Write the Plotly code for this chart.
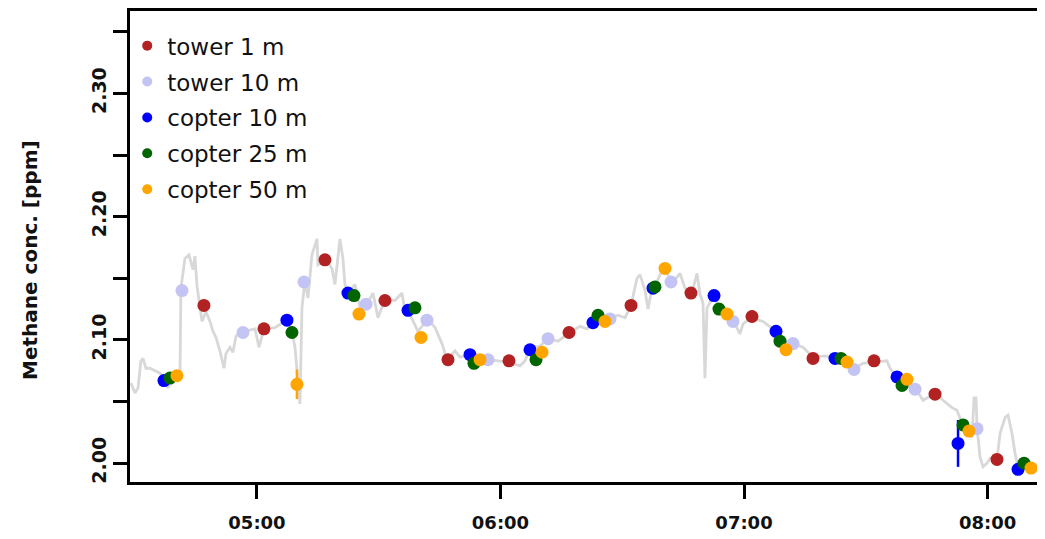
import plotly.graph_objects as go

DAY = "2014-07-10 "

# continuous tower record (grey line)
line_time = ["04:28:57","04:29:56","04:30:41","04:31:25","04:31:55","04:32:39","04:33:38","04:34:52","04:36:06","04:37:05",
             "04:38:04","04:39:18","04:40:32","04:41:02","04:41:16","04:42:15","04:43:15","04:44:14","04:44:43","04:45:13",
             "04:45:57","04:46:27","04:47:26","04:48:25","04:49:10","04:49:54","04:50:53","04:51:52","04:52:22","04:53:21",
             "04:54:05","04:54:50","04:56:48","04:59:31","05:00:30","05:01:43","05:04:26","05:06:24","05:07:38","05:08:37",
             "05:09:22","05:09:51","05:10:06","05:10:36","05:11:05","05:11:50","05:12:34","05:13:33","05:14:47","05:15:02",
             "05:17:00","05:18:29","05:19:13","05:20:27","05:21:11","05:21:41","05:22:25","05:24:09","05:25:23","05:27:06",
             "05:28:35","05:29:49","05:31:32","05:34:00","05:35:44","05:36:28","05:37:13","05:39:40","05:42:08","05:43:52",
             "05:45:35","05:46:49","05:48:47","05:50:01","05:52:29","05:54:28","05:56:55","05:59:08","06:01:51","06:04:49",
             "06:06:02","06:07:16","06:09:44","06:11:43","06:14:10","06:16:38","06:19:35","06:21:19","06:22:47","06:24:31",
             "06:26:59","06:28:57","06:30:41","06:32:10","06:33:38","06:34:23","06:35:37","06:36:21","06:37:20","06:38:04",
             "06:39:18","06:40:32","06:42:16","06:44:14","06:45:28","06:47:11","06:48:25","06:49:10","06:49:54","06:50:23",
             "06:50:53","06:52:37","06:53:50","06:55:49","06:57:17","06:59:01","06:59:46","07:01:44","07:04:41","07:07:53",
             "07:09:52","07:12:05","07:14:32","07:17:00","07:19:58","07:22:25","07:24:53","07:27:07","07:29:19","07:32:02",
             "07:35:14","07:35:59","07:37:42","07:39:11","07:42:08","07:44:07","07:47:19","07:49:02","07:51:15","07:52:29",
             "07:53:43","07:54:57","07:56:11","07:56:41","07:57:10","07:57:25","07:58:09","07:58:53","07:59:53","08:00:37",
             "08:02:20","08:03:05","08:04:19","08:05:03","08:06:02","08:06:47","08:07:31","08:09:14","08:11:13","08:14:10"]
line_conc = [2.065,2.057,2.061,2.083,2.085,2.077,2.077,2.075,2.073,2.069,
             2.061,2.069,2.071,2.071,2.142,2.166,2.169,2.157,2.168,2.144,
             2.129,2.115,2.123,2.115,2.107,2.102,2.091,2.077,2.089,2.094,
             2.090,2.103,2.107,2.109,2.094,2.109,2.110,2.114,2.115,2.107,
             2.094,2.077,2.063,2.048,2.126,2.148,2.134,2.169,2.182,2.161,
             2.165,2.158,2.145,2.182,2.166,2.145,2.138,2.145,2.126,2.129,
             2.138,2.118,2.133,2.132,2.138,2.123,2.124,2.107,2.117,2.110,
             2.097,2.084,2.091,2.086,2.088,2.083,2.084,2.083,2.082,2.079,
             2.083,2.093,2.095,2.101,2.099,2.105,2.111,2.109,2.114,2.119,
             2.117,2.120,2.118,2.128,2.150,2.153,2.140,2.125,2.142,2.143,
             2.153,2.158,2.146,2.154,2.142,2.138,2.154,2.137,2.130,2.069,
             2.126,2.136,2.125,2.121,2.116,2.105,2.113,2.118,2.115,2.107,
             2.099,2.097,2.094,2.086,2.087,2.085,2.083,2.077,2.081,2.082,
             2.083,2.077,2.070,2.063,2.061,2.051,2.057,2.051,2.045,2.043,
             2.032,2.024,2.021,2.053,2.053,2.029,2.005,1.997,2.000,2.004,
             2.003,2.024,2.037,2.039,2.024,2.008,1.997,2.001,1.998,2.000]

# tower discrete measurements
tower1_time = ["04:46:56","05:01:43","05:16:45","05:31:32","05:47:04","06:02:06","06:16:53",
               "06:32:10","06:46:56","07:01:58","07:17:00","07:32:02","07:47:04","08:02:20"]
tower1_conc = [2.128,2.109,2.165,2.132,2.084,2.083,2.106,2.128,2.138,2.119,2.085,2.083,2.056,2.003]

tower10_time = ["04:41:31","04:56:33","05:11:35","05:26:52","05:41:53","05:56:55","06:11:43",
                "06:26:59","06:42:01","06:57:17","07:12:05","07:27:07","07:42:08","07:57:25"]
tower10_conc = [2.140,2.106,2.147,2.129,2.116,2.084,2.101,2.117,2.147,2.115,2.097,2.076,2.060,2.028]

# copter measurements
copter10_time = ["04:37:05","05:07:23","05:22:25","05:37:13","05:52:29","06:07:16","06:22:47",
                 "06:37:35","06:52:37","07:07:53","07:22:25","07:37:42","07:52:44","08:07:31"]
copter10_conc = [2.067,2.116,2.138,2.124,2.088,2.092,2.114,2.142,2.136,2.107,2.085,2.070,2.016,1.995]
copter10_spread = [0,0,0,0,0,0,0,0,0,0,0,0,0.019,0]

copter25_time = ["04:38:34","05:08:37","05:23:54","05:38:56","05:53:28","06:08:45","06:24:02",
                 "06:38:04","06:53:50","07:08:52","07:23:54","07:38:56","07:53:58","08:09:00"]
copter25_conc = [2.069,2.106,2.136,2.126,2.081,2.084,2.120,2.143,2.125,2.099,2.085,2.063,2.031,2.000]

copter50_time = ["04:40:17","05:09:51","05:25:08","05:40:25","05:54:57","06:10:14","06:25:45",
                 "06:40:32","06:55:49","07:10:21","07:25:23","07:40:10","07:55:26","08:10:43"]
copter50_conc = [2.071,2.064,2.121,2.102,2.084,2.090,2.115,2.158,2.121,2.092,2.082,2.068,2.026,1.996]
copter50_spread = [0,0.012,0,0,0,0,0,0,0,0,0,0,0,0]

series_names = ["tower 1 m", "tower 10 m", "copter 10 m", "copter 25 m", "copter 50 m"]
series_colors = ["#B22222", "#C4C4F4", "#0000FF", "#006400", "#FFA500"]

x_ticks = ["05:00", "06:00", "07:00", "08:00"]
y_ticks = [2.00, 2.05, 2.10, 2.15, 2.20, 2.25, 2.30, 2.35]
y_ticktext = ["2.00", "", "2.10", "", "2.20", "", "2.30", ""]
x_range = ["04:28:43", "08:16:08"]
y_range = [1.9847, 2.3669]


def ts(lst):
    return [DAY + t for t in lst]


fig = go.Figure()

fig.add_trace(go.Scatter(x=ts(line_time), y=line_conc, mode="lines",
                         line=dict(color="rgb(216,216,216)", width=2.8),
                         showlegend=False, hoverinfo="skip"))

point_sets = [
    (tower1_time, tower1_conc, None),
    (tower10_time, tower10_conc, None),
    (copter10_time, copter10_conc, copter10_spread),
    (copter25_time, copter25_conc, None),
    (copter50_time, copter50_conc, copter50_spread),
]
for (t, c, s), name, col in zip(point_sets, series_names, series_colors):
    err = None
    if s is not None:
        err = dict(type="data", array=s, visible=True, color=col, thickness=2.5, width=0)
    fig.add_trace(go.Scatter(x=ts(t), y=c, mode="markers", name=name,
                             marker=dict(color=col, size=13, line=dict(width=0)),
                             error_y=err, showlegend=False))

# legend entries (smaller dots)
for i, (name, col) in enumerate(zip(series_names, series_colors)):
    fig.add_trace(go.Scatter(x=[None], y=[None], mode="markers", name=name,
                             legendgroup=f"g{i}",
                             marker=dict(color=col, size=10)))

fig.update_layout(
    width=1045, height=539,
    margin=dict(l=122, r=0, t=0, b=65),
    paper_bgcolor="white", plot_bgcolor="white",
    showlegend=True,
    legend=dict(x=-0.003, y=0.972, xanchor="left", yanchor="top",
                bgcolor="rgba(0,0,0,0)", traceorder="grouped", tracegroupgap=3,
                font=dict(family="DejaVu Sans", size=23, color="#111"),
                itemwidth=30),
    font=dict(family="DejaVu Sans", color="#111"),
)

fig.update_xaxes(
    type="date", range=[DAY + x_range[0], DAY + x_range[1]],
    tickvals=[DAY + t for t in x_ticks], ticktext=x_ticks,
    ticks="outside", ticklen=14, tickwidth=2.5, tickcolor="black",
    showline=True, linecolor="black", linewidth=2.5, mirror=True,
    showgrid=False, zeroline=False,
    tickfont=dict(family="DejaVu Sans", size=18, weight="bold", color="#111"),
    ticklabelstandoff=9,
)
fig.update_yaxes(
    range=y_range, tickvals=y_ticks, ticktext=y_ticktext, tickangle=-90,
    ticks="outside", ticklen=14, tickwidth=2.5, tickcolor="black",
    showline=True, linecolor="black", linewidth=2.5, mirror=False,
    showgrid=False, zeroline=False,
    tickfont=dict(family="DejaVu Sans", size=19, weight="bold", color="#111"),
    ticklabelstandoff=0,
)

fig.add_annotation(text="Methane conc. [ppm]", xref="paper", yref="paper",
                   x=-0.1086, y=0.471, xanchor="center", yanchor="middle",
                   textangle=-90, showarrow=False,
                   font=dict(family="DejaVu Sans", size=20, weight="bold", color="#111"))

fig.write_html("out.html")
